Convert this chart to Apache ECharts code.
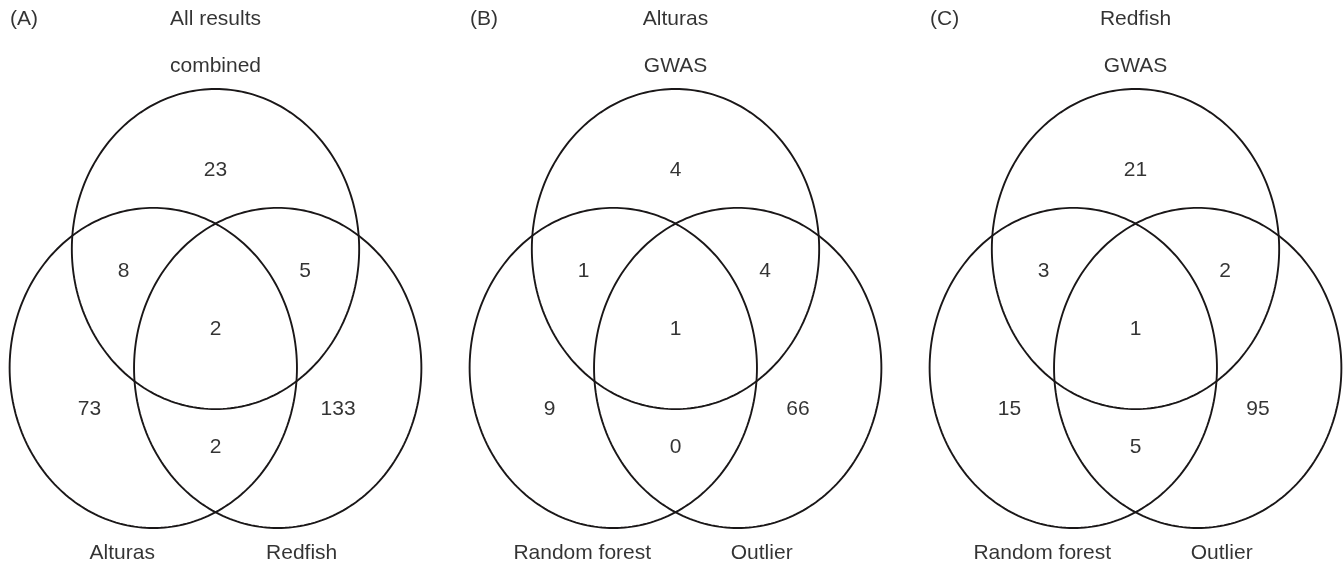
<!DOCTYPE html>
<html>
<head>
<meta charset="utf-8">
<script src="https://cdn.jsdelivr.net/npm/echarts@6/dist/echarts.min.js"></script>
<style>
  html, body { margin: 0; padding: 0; background: #ffffff; }
  #chart { width: 1343px; height: 567px; }
</style>
</head>
<body>
<div id="chart"></div>
<script>
// ---------------- data ----------------
const panelLetters = ['(A)', '(B)', '(C)'];
const titleLine1 = ['All results', 'Alturas', 'Redfish'];
const titleLine2 = ['combined', 'GWAS', 'GWAS'];
const leftSetNames = ['Alturas', 'Random forest', 'Random forest'];
const rightSetNames = ['Redfish', 'Outlier', 'Outlier'];
// regions: top only, top&left, top&right, all three, left only, right only, left&right
const regionNames = ['top only', 'top & left', 'top & right', 'all three', 'left only', 'right only', 'left & right'];
const countsA = [23, 8, 5, 2, 73, 133, 2];
const countsB = [4, 1, 4, 1, 9, 66, 0];
const countsC = [21, 3, 2, 1, 15, 95, 5];
const panelCounts = [countsA, countsB, countsC];

// ---------------- layout (in diagram units, radius = 1) ----------------
const CIRCLES = [[0, 0.7425, 1], [-0.433, 0, 1], [0.433, 0, 1]];
const REGION_ANCHORS = [[0, 1.235], [-0.64, 0.607], [0.623, 0.607], [0, 0.245],
                        [-0.877, -0.259], [0.853, -0.259], [0, -0.494]];
const TITLE1_Y = 2.177, TITLE2_Y = 1.883, SET_Y = -1.156;
const LETTER_X = -1.43;
const SET_X = [-0.649, 0.6];
const X_HALF = 1.44;          // half-width of each panel's x range
const UNIT_PX = 143.67;       // horizontal pixels per unit
const PANEL_CX = [215.5, 675.5, 1135.5];

const INK = '#1a1718';
const TEXT_INK = '#000000';
const FONT = 'Liberation Sans, Arial, Helvetica, sans-serif';
const FS = 21;

const grids = [], xAxes = [], yAxes = [], series = [];
for (let i = 0; i < 3; i++) {
  const w = 2 * X_HALF * UNIT_PX;
  grids.push({ left: PANEL_CX[i] - w / 2, top: 89, width: w, bottom: 39 });
  xAxes.push({ type: 'value', gridIndex: i, min: -X_HALF, max: X_HALF, show: false });
  yAxes.push({ type: 'value', gridIndex: i, min: -1, max: 1.7425, show: false });

  // circles
  series.push({
    type: 'custom', xAxisIndex: i, yAxisIndex: i, silent: true, clip: false,
    data: CIRCLES,
    renderItem: function (params, api) {
      const x = api.value(0), y = api.value(1), r = api.value(2);
      const pts = [];
      for (let k = 0; k < 240; k++) {
        const t = (k / 240) * Math.PI * 2;
        pts.push(api.coord([x + r * Math.cos(t), y + r * Math.sin(t)]));
      }
      return {
        type: 'polygon',
        shape: { points: pts },
        style: { fill: 'none', stroke: INK, lineWidth: 1.9 }
      };
    }
  });

  // region counts
  series.push({
    type: 'scatter', xAxisIndex: i, yAxisIndex: i, silent: true, clip: false,
    symbolSize: 0,
    data: REGION_ANCHORS.map((a, k) => ({ name: regionNames[k], value: [a[0], a[1], panelCounts[i][k]] })),
    label: {
      show: true, position: 'inside', color: TEXT_INK, fontSize: FS, fontFamily: FONT,
      formatter: p => String(p.value[2])
    }
  });

  // text labels (titles, set names, panel letter)
  series.push({
    type: 'scatter', xAxisIndex: i, yAxisIndex: i, silent: true, clip: false,
    symbolSize: 0,
    data: [
      { name: titleLine1[i], value: [0, TITLE1_Y] },
      { name: titleLine2[i], value: [0, TITLE2_Y] },
      { name: leftSetNames[i], value: [SET_X[0], SET_Y] },
      { name: rightSetNames[i], value: [SET_X[1], SET_Y] },
      { name: panelLetters[i], value: [LETTER_X, TITLE1_Y], label: { align: 'left' } }
    ],
    label: {
      show: true, position: 'inside', color: TEXT_INK, fontSize: FS, fontFamily: FONT,
      formatter: '{b}'
    }
  });
}

const chart = echarts.init(document.getElementById('chart'), null, { renderer: 'canvas' });
chart.setOption({
  backgroundColor: '#ffffff',
  animation: false,
  grid: grids,
  xAxis: xAxes,
  yAxis: yAxes,
  series: series
});
</script>
</body>
</html>
